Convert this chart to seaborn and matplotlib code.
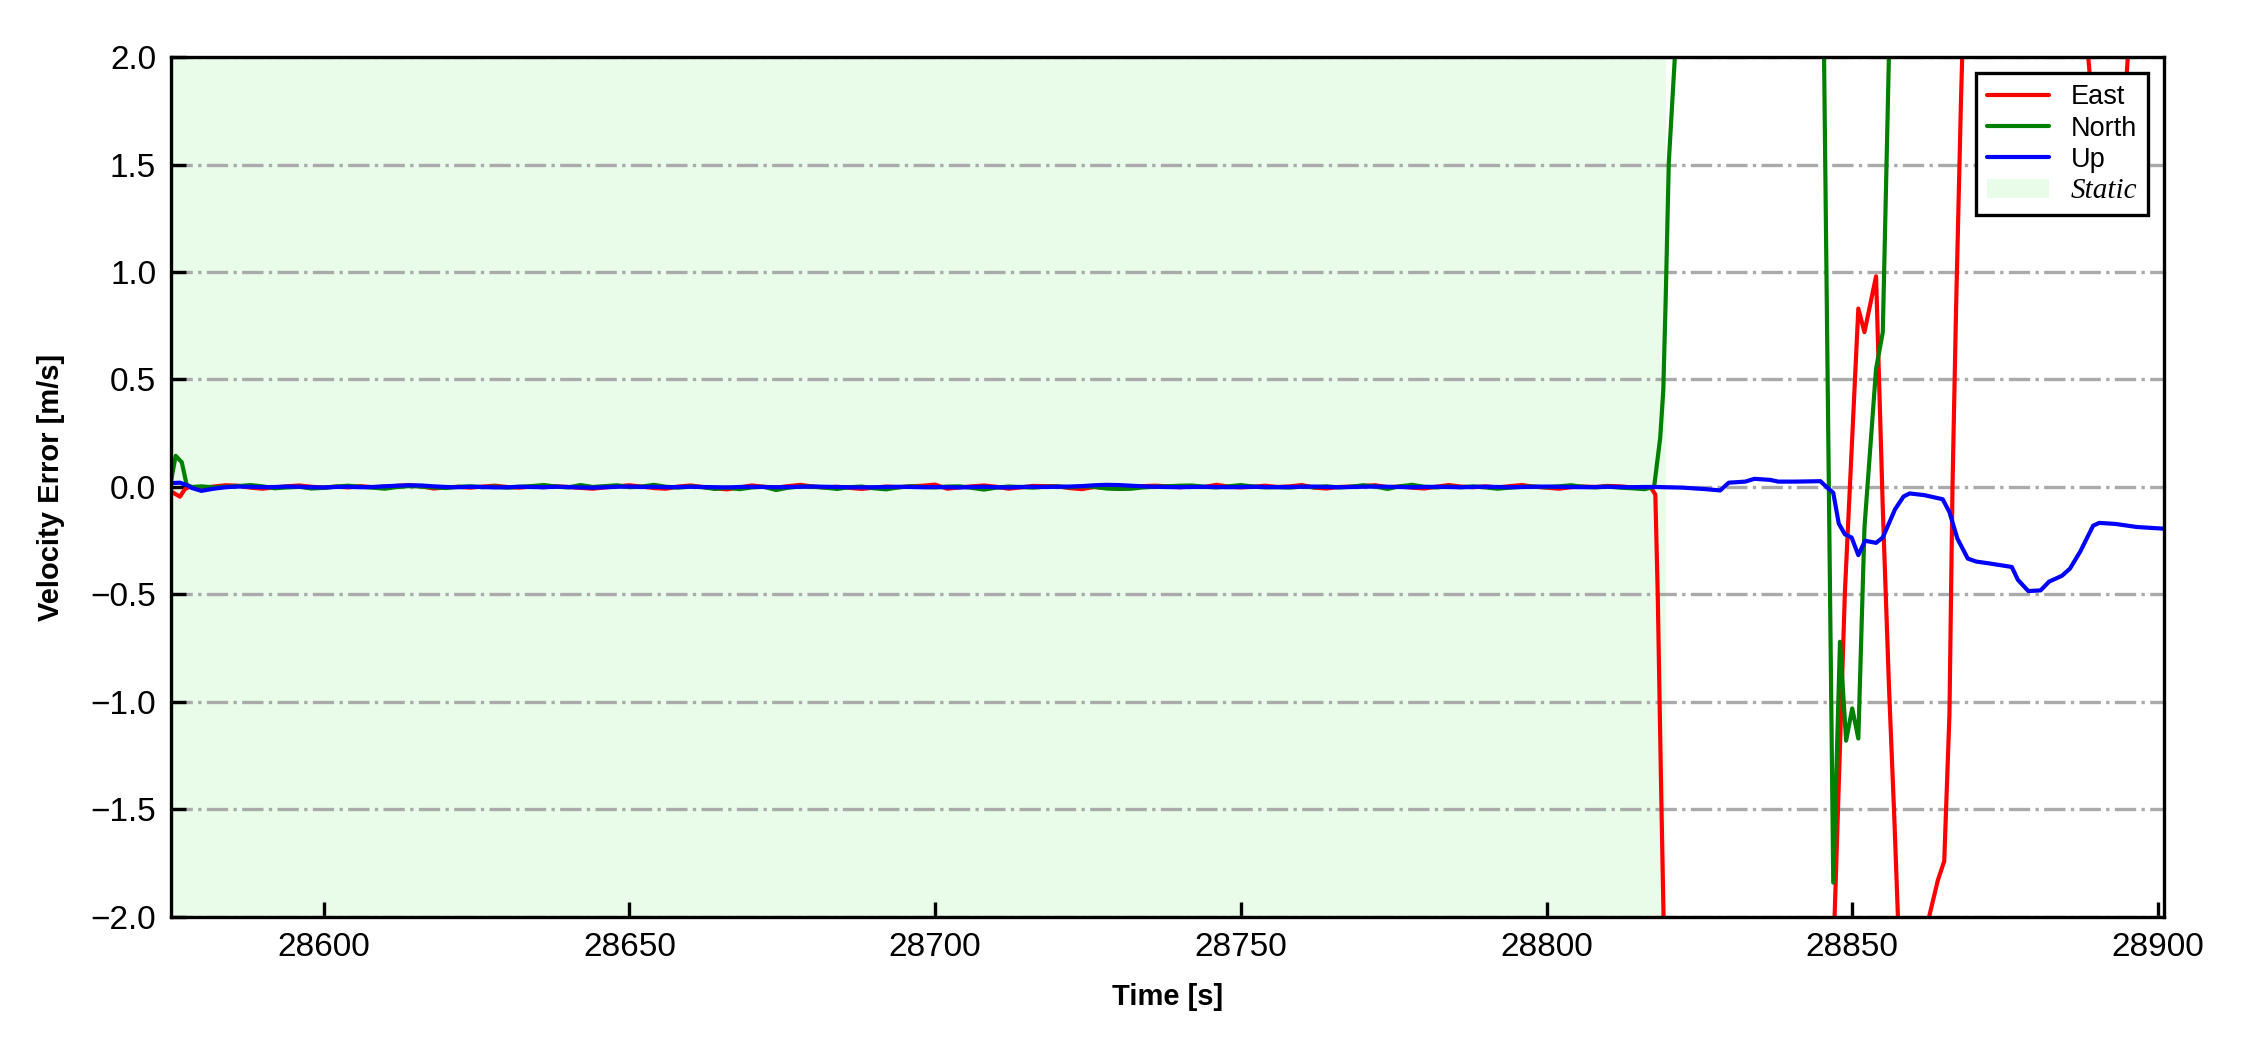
import numpy as np
import pandas as pd
import seaborn as sns
import matplotlib.pyplot as plt
from matplotlib.patches import Patch
from matplotlib.lines import Line2D

# intervalo estatico
static_start = 28575.0
static_end = 28819.6

# inicio (transiente)
east_start_time = [28575.0, 28576.5, 28577.3, 28578.0]
east_start = [-0.02, -0.045, -0.01, 0.0]
north_start_time = [28575.0, 28575.8, 28576.8, 28577.6, 28578.5]
north_start = [0.02, 0.145, 0.115, 0.01, 0.0]
up_start_time = [28575.0, 28576.5, 28577.5, 28578.5]
up_start = [0.018, 0.02, 0.01, -0.005]

# parte estatica, uma amostra a cada 2 s (valores em mm/s)
static_time = np.arange(28580, 28817, 2)
east_static_mm = [
    -5, 2, 8, 6, -3, -8, -2, 3, 7, 1,
    -3, 2, -2, 4, -1, 2, 5, 9, 3, -7,
    -2, 1, -3, 2, 6, 0, -3, 2, -1, 3,
    0, -4, -8, -2, 3, 8, 2, -5, -8, 2,
    7, 0, -6, -11, -2, 7, 1, -3, 4, 10,
    2, -2, 1, -4, -9, -3, 2, -1, 3, 6,
    11, -8, -2, 3, 7, 1, -8, -2, 5, 4,
    3, -5, -10, 0, -4, -6, -5, 4, 6, 3,
    -1, 2, 0, 10, 2, -2, 1, 6, 0, 3,
    9, -3, -7, 0, 2, 5, 8, -1, 2, -3,
    -7, 1, 9, 2, -1, 3, -2, 4, 9, 1,
    -3, -8, -1, 2, 0, 5, 3, -2, -4,
]
north_static_mm = [
    3, -2, 1, 4, 9, 3, -6, -2, 1, -7,
    -4, 2, 6, 1, -3, -8, 0, 4, 2, -2,
    -5, 1, 3, -1, 2, -3, 1, 4, 9, 2,
    -2, 9, 0, 4, 8, -1, 2, 10, 1, -3,
    2, -1, -9, -3, -10, -2, 1, -14, -3, 2,
    1, -3, -9, -1, 2, -6, -11, -2, 3, 0,
    -2, 2, 3, -4, -12, -3, 2, 0, -3, 1,
    2, -1, 3, 1, -7, -9, -8, -2, 1, 3,
    6, 7, 1, -2, 3, 9, 2, -2, 0, -3,
    2, -1, 3, -2, 1, 8, 2, -9, 3, 10,
    1, -2, 2, -1, 3, -2, -8, -3, 1, 2,
    -1, 3, 8, 1, -2, 2, -3, -6, -10,
]
up_static_mm = [
    -18, -8, -1, 2, 1, -1, 0, 2, 1, -1,
    -2, 0, 1, -1, 0, 3, 6, 8, 7, 3,
    0, -1, 1, 0, -2, -1, 1, 0, -1, 1,
    0, -2, -3, -1, 1, 2, 0, 1, -1, 0,
    1, 0, -1, -2, 0, 1, 0, -1, 0, 1,
    2, 1, 0, -1, -2, -1, 0, 1, 0, -1,
    0, -1, -2, 0, 1, -1, -2, 0, 1, 0,
    1, 2, 4, 8, 10, 9, 6, 3, 1, 0,
    -1, 0, 1, 0, -1, 0, 1, 0, -1, 0,
    1, 2, 0, -1, 0, 1, 2, 1, 0, -1,
    0, 1, 0, -1, 0, 1, 0, -1, 0, 1,
    2, 1, 0, -1, 0, 1, 0, -1, 0,
]

# parte dinamica
east_dyn_time = [28817.0, 28817.8, 28818.2, 28818.7, 28819.8, 28825.0, 28835.0, 28846.0,
                 28848.8, 28851.0, 28852.0, 28853.9, 28855.0, 28856.0, 28856.9, 28858.5,
                 28860.0, 28862.4, 28864.0, 28865.05, 28865.9, 28866.4, 28867.0, 28867.8,
                 28868.6, 28875.0, 28885.0, 28888.0, 28889.5, 28892.0, 28894.5, 28896.0, 28901.0]
east_dyn = [0.0, -0.035, -0.51, -1.33, -3.0, -4.0, -4.5, -3.0,
            -0.49, 0.83, 0.72, 0.98, -0.1, -0.92, -1.55, -2.8,
            -2.8, -2.02, -1.83, -1.74, -1.06, 0.0, 0.85, 1.81,
            2.6, 3.2, 3.0, 2.2, 1.7, 1.6, 1.75, 2.4, 3.0]

north_dyn_time = [28817.6, 28818.6, 28819.1, 28819.5, 28820.0, 28820.9, 28822.0, 28830.0,
                  28840.0, 28845.0, 28846.9, 28848.0, 28849.0, 28850.0, 28851.0, 28852.0,
                  28853.9, 28855.0, 28856.0, 28857.0, 28870.0, 28901.0]
north_dyn = [0.0, 0.23, 0.45, 0.88, 1.51, 1.95, 2.5, 3.5,
             3.5, 3.0, -1.84, -0.72, -1.18, -1.03, -1.17, -0.19,
             0.55, 0.72, 2.0, 3.5, 4.0, 4.0]

up_dyn_time = [28818.0, 28822.3, 28826.0, 28828.4, 28829.8, 28832.5, 28834.0, 28836.6,
               28837.9, 28840.7, 28844.8, 28845.8, 28846.9, 28847.8, 28848.8, 28849.9,
               28851.0, 28852.1, 28853.9, 28855.0, 28857.0, 28858.4, 28859.4, 28861.8,
               28864.8, 28865.9, 28867.2, 28868.9, 28870.3, 28872.3, 28876.1, 28877.1,
               28878.8, 28880.8, 28882.2, 28884.3, 28885.6, 28887.3, 28889.4, 28890.4,
               28893.1, 28896.5, 28901.0]
up_dyn = [0.0, -0.003, -0.01, -0.016, 0.02, 0.025, 0.038, 0.033,
          0.025, 0.025, 0.027, 0.0, -0.027, -0.17, -0.22, -0.235,
          -0.317, -0.25, -0.26, -0.235, -0.104, -0.044, -0.03, -0.038,
          -0.057, -0.117, -0.24, -0.333, -0.347, -0.355, -0.372, -0.432,
          -0.484, -0.481, -0.44, -0.413, -0.38, -0.30, -0.18, -0.167,
          -0.172, -0.186, -0.194]


def montar(nome, t0, v0, v_mm, t1, v1):
    tempo = list(t0) + list(static_time) + list(t1)
    valor = list(v0) + [v / 1000.0 for v in v_mm] + list(v1)
    return pd.DataFrame({'Time': tempo, 'Error': valor, 'Axis': nome})


df = pd.concat([
    montar('East', east_start_time, east_start, east_static_mm, east_dyn_time, east_dyn),
    montar('North', north_start_time, north_start, north_static_mm, north_dyn_time, north_dyn),
    montar('Up', up_start_time, up_start, up_static_mm, up_dyn_time, up_dyn),
], ignore_index=True)

sns.set_style('white')
plt.rcParams['font.family'] = ['Liberation Sans', 'DejaVu Sans']
plt.rcParams['text.color'] = 'black'
plt.rcParams['axes.labelcolor'] = 'black'

cores = {'East': 'red', 'North': 'green', 'Up': 'blue'}
cor_static = '#e9fce9'

fig, ax = plt.subplots(figsize=(7.5, 3.5), dpi=300)
fig.subplots_adjust(left=0.0759, right=0.9618, bottom=0.1267, top=0.9457)

ax.axvspan(static_start, static_end, color=cor_static, lw=0, zorder=0)
sns.lineplot(data=df, x='Time', y='Error', hue='Axis', palette=cores, estimator=None,
             sort=False, linewidth=1.0, legend=False, ax=ax)

ax.set_xlim(28575, 28901)
ax.set_ylim(-2, 2)
ax.set_xticks([28600, 28650, 28700, 28750, 28800, 28850, 28900])
ax.set_yticks([-2.0, -1.5, -1.0, -0.5, 0.0, 0.5, 1.0, 1.5, 2.0])
ax.yaxis.grid(True, linestyle='-.', color='#aaaaaa', linewidth=0.8)
ax.xaxis.grid(False)
ax.set_axisbelow(True)
ax.tick_params(direction='in', length=3.5, width=0.8, labelsize=8, colors='black',
               bottom=True, left=True, top=False, right=False)
for s in ax.spines.values():
    s.set_color('black')
    s.set_linewidth(0.8)

ax.set_xlabel('Time [s]', fontsize=7, fontweight='bold', labelpad=5, color='black')
ax.set_ylabel('Velocity Error [m/s]', fontsize=7, fontweight='bold', labelpad=6, color='black')

handles = [Line2D([0], [0], color=cores[k], lw=1.0) for k in ['East', 'North', 'Up']]
handles.append(Patch(facecolor=cor_static, edgecolor='none'))
leg = ax.legend(handles, ['East', 'North', 'Up', 'Static'], loc='upper right', fontsize=6.5,
                frameon=True, fancybox=False, edgecolor='black', framealpha=1,
                labelspacing=0.2, handlelength=2.3, handletextpad=0.8, borderaxespad=0.6)
leg.get_frame().set_linewidth(0.8)
for txt in leg.get_texts():
    txt.set_color('black')
leg.get_texts()[3].set_fontfamily('Liberation Serif')
leg.get_texts()[3].set_fontstyle('italic')
leg.get_texts()[3].set_fontsize(7)

plt.savefig('out.png', dpi=300)
